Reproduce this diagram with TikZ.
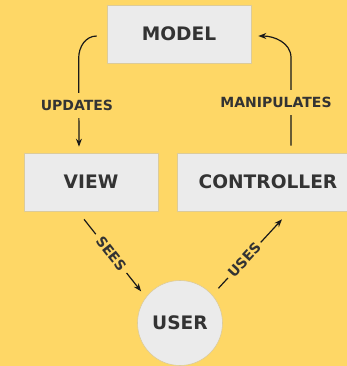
\documentclass[tikz,border=0pt]{standalone}
\usepackage{fontspec}
\setmainfont{DejaVu Sans}
\usetikzlibrary{arrows.meta}
\definecolor{bg}{HTML}{FED766}
\definecolor{boxfill}{HTML}{EBEBEB}
\definecolor{boxline}{HTML}{DCCB9A}
\definecolor{txt}{HTML}{333333}
\begin{document}
\begin{tikzpicture}[x=1pt,y=-1pt,
  box/.style={draw=boxline, fill=boxfill, line width=0.6pt, text=txt,
    font=\bfseries\fontsize{18.6}{20}\selectfont, inner sep=0pt},
  lbl/.style={fill=bg, text=txt, font=\bfseries\fontsize{14}{15}\selectfont,
    inner xsep=4pt, inner ysep=7pt},
  conn/.style={line width=1.2pt, draw=black!90, -{Stealth[length=8pt,width=6pt]}}]
\fill[bg] (0,0) rectangle (347,366);
\useasboundingbox (0,0) rectangle (347,366);
\node[box, minimum width=144pt, minimum height=58pt] (model) at (179,34) {MODEL};
\node[box, minimum width=134pt, minimum height=58pt] (view) at (91,182) {VIEW};
\node[box, minimum width=182pt, minimum height=58pt] (controller) at (268,182) {CONTROLLER};
\node[box, circle, minimum size=85pt] (user) at (180,323) {USER};
% model -> view
\draw[conn, shorten >=6pt] ([shift={(-10,2)}]model.west) to[out=180,in=90] ++(-18,22)
  -- node[lbl, pos=0.5, xshift=-2pt] {UPDATES} ([xshift=-12pt]view.north);
% controller -> model
\draw[conn, shorten <=7pt] ([xshift=23pt]controller.north) -- node[lbl, pos=0.526, xshift=-15pt] {MANIPULATES} ++(0,-95)
  to[out=90,in=0] ([shift={(7,2)}]model.east);
% view -> user
\draw[conn, shorten >=7.5pt] ([shift={(-7,8)}]view.south) -- node[lbl, sloped, pos=0.44, inner xsep=5pt, inner ysep=2pt] {SEES} (user.143);
% user -> controller
\draw[conn, shorten <=9pt] (user.41) -- node[lbl, sloped, pos=0.46, inner xsep=3.5pt, inner ysep=2pt] {USES} ([shift={(14,8)}]controller.south);
\end{tikzpicture}
\end{document}
